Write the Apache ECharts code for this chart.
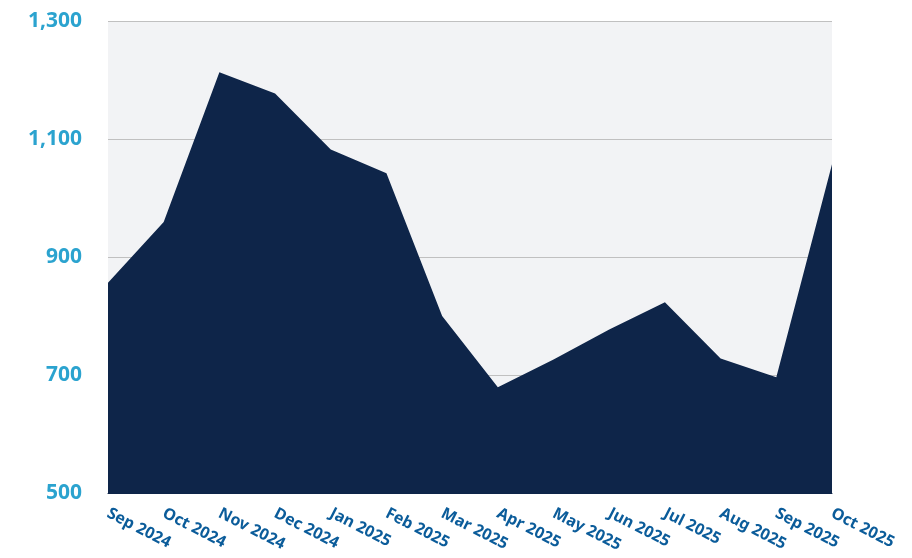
<!DOCTYPE html>
<html>
<head>
<meta charset="utf-8">
<script src="https://cdn.jsdelivr.net/npm/echarts@6/dist/echarts.min.js"></script>
<style>
html,body{margin:0;padding:0;background:#fff;}
#c{width:912px;height:558px;}
</style>
</head>
<body>
<div id="c"></div>
<script>
const categories = ["Sep 2024","Oct 2024","Nov 2024","Dec 2024","Jan 2025","Feb 2025","Mar 2025","Apr 2025","May 2025","Jun 2025","Jul 2025","Aug 2025","Sep 2025","Oct 2025"];
const values = [857, 960, 1214, 1178, 1083, 1043, 801, 680, 727, 778, 824, 729, 697, 1058];
const yMin = 500, yMax = 1300, yInterval = 200;

const chart = echarts.init(document.getElementById('c'), null, {renderer:'canvas'});
chart.setOption({
  animation: false,
  grid: {left:108, right:80, top:21.5, bottom:64.5, show:true, backgroundColor:'#f2f3f5', borderWidth:0},
  xAxis: {
    type:'category', data:categories, boundaryGap:false,
    axisLine:{show:true, lineStyle:{color:'#0e2549', width:1}},
    axisTick:{show:false},
    axisLabel:{rotate:-27, color:'#0b5c9a', fontFamily:'Noto Sans', fontWeight:'bold', fontSize:16, margin:19, interval:0}
  },
  yAxis: {
    type:'value', min:yMin, max:yMax, interval:yInterval,
    axisLine:{show:false}, axisTick:{show:false},
    splitLine:{lineStyle:{color:'#c0c0c0', width:1}},
    axisLabel:{color:'#2ba3cf', fontFamily:'Noto Sans', fontWeight:'bold', fontSize:21, margin:26,
      formatter: v => v.toLocaleString('en-US')}
  },
  series: [{
    type:'line', data:values, symbol:'none',
    lineStyle:{width:0, color:'#0e2549'},
    areaStyle:{color:'#0e2549', opacity:1, origin:'start'}
  }]
});
</script>
</body>
</html>
